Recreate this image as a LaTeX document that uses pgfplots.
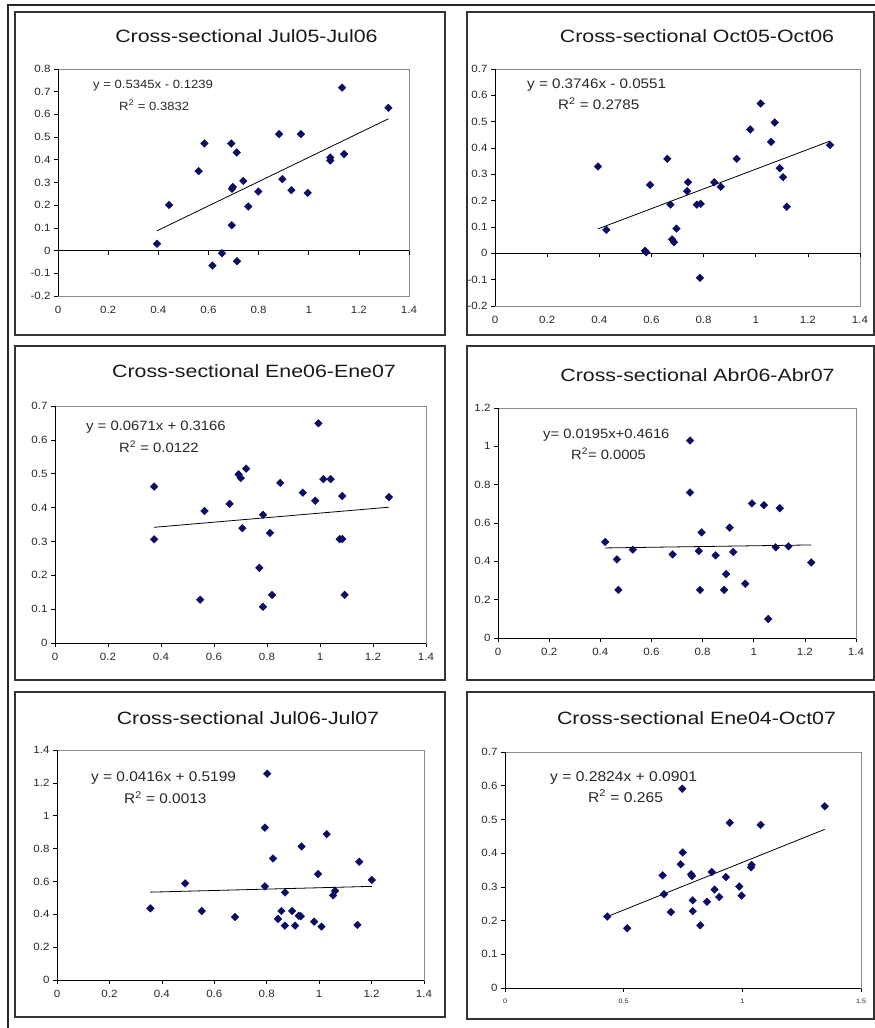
\documentclass[border=0pt]{standalone}
\usepackage{pgfplots}
\pgfplotsset{compat=1.18}
\usepackage{fontspec}
\setmainfont{Liberation Sans}[FakeStretch=1.1]
\newfontfamily\titlefont{Liberation Sans}[FakeStretch=1.2]
\definecolor{mk}{RGB}{12,12,100}
\definecolor{txt}{RGB}{40,40,40}
\pgfplotsset{
  panel/.style={
    scale only axis, clip=false,
    xmin=0, xmax=1.4,
    xtick={0,0.2,0.4,0.6,0.8,1,1.2,1.4},
    axis line style={draw=black!45, line width=0.8pt},
    tick align=outside, major tick length=4pt,
    tick style={black, line width=0.7pt},
    xtick pos=lower, ytick pos=left,
    ticklabel style={font=\fontsize{10.5}{12}\selectfont, text=txt},
    /pgf/number format/assume math mode=true,
    xticklabel style={yshift=-3pt},
  },
  pts/.style={only marks, mark=square*, mark size=2.7pt, mark options={rotate=45, draw=mk, fill=mk}},
  trend/.style={black, line width=0.8pt, no marks},
}
\newcommand{\eqfont}[1]{\fontsize{#1}{#1}\selectfont\color{txt}}
\begin{document}
\begin{tikzpicture}[x=1pt,y=1pt]
\path[use as bounding box] (0,0) rectangle (875,1028);
% frames
\draw[black!85, line width=1.4pt] (8,0) -- (8,1023) -- (876,1023);
\draw[black!80, line width=1.6pt] (15,693) rectangle (445,1016);
\draw[black!80, line width=1.6pt] (467,693) rectangle (874,1016);
\draw[black!80, line width=1.6pt] (15,348) rectangle (445,682);
\draw[black!80, line width=1.6pt] (467,348) rectangle (874,682);
\draw[black!80, line width=1.6pt] (15,11) rectangle (445,336);
\draw[black!80, line width=1.6pt] (467,9) rectangle (874,336);

% ---------- Panel 1 ----------
\begin{axis}[panel, at={(58pt,732pt)}, anchor=south west, width=351pt, height=227pt,
  ymin=-0.2, ymax=0.8, ytick={-0.2,-0.1,0,0.1,0.2,0.3,0.4,0.5,0.6,0.7,0.8},
  xtick style={draw=none}]
\addplot[pts] coordinates {
(0.395,0.03) (0.443,0.201) (0.561,0.35) (0.584,0.472) (0.616,-0.066)
(0.654,-0.012) (0.691,0.472) (0.694,0.272) (0.697,0.28) (0.693,0.112)
(0.713,0.432) (0.714,-0.047) (0.739,0.307) (0.759,0.194) (0.799,0.260)
(0.882,0.513) (0.895,0.315) (0.931,0.266) (0.969,0.513) (0.996,0.254)
(1.086,0.41) (1.086,0.397) (1.133,0.718) (1.141,0.425) (1.318,0.629)};
\addplot[trend] coordinates {(0.395,0.0872) (1.318,0.5806)};
\addplot[black, line width=0.9pt, no marks] coordinates {(0,0) (1.4,0)};
\draw[black, line width=0.9pt] (rel axis cs:0,0) -- (rel axis cs:0,1);
\pgfplotsinvokeforeach{0.2,0.4,0.6,0.8,1,1.2,1.4}{\draw[black, line width=0.7pt] (axis cs:#1,0) -- (axis cs:#1,-0.0176);}
\end{axis}
\node[font=\titlefont\fontsize{17.8}{20}\selectfont, text=black!90] at (246.5,992) {Cross-sectional Jul05-Jul06};
\node[anchor=west, inner sep=0, font=\eqfont{11.9}] at (93,942) {y = 0.5345x - 0.1239};
\node[anchor=west, inner sep=0, font=\eqfont{11.9}] at (119,923) {R\textsuperscript{2} = 0.3832};

% ---------- Panel 2 ----------
\begin{axis}[panel, at={(495pt,722pt)}, anchor=south west, width=365pt, height=237pt,
  ymin=-0.2, ymax=0.7, ytick={-0.2,-0.1,0,0.1,0.2,0.3,0.4,0.5,0.6,0.7},
  xtick style={draw=none}]
\addplot[pts] coordinates {
(0.395,0.33) (0.427,0.089) (0.575,0.01) (0.58,0.004) (0.595,0.26)
(0.661,0.359) (0.673,0.185) (0.679,0.053) (0.687,0.042) (0.696,0.094)
(0.737,0.236) (0.74,0.27) (0.774,0.185) (0.789,0.188) (0.786,-0.093)
(0.841,0.27) (0.866,0.253) (0.927,0.359) (0.979,0.47) (1.019,0.569)
(1.059,0.423) (1.073,0.497) (1.092,0.323) (1.105,0.289) (1.119,0.177)
(1.285,0.411)};
\addplot[trend] coordinates {(0.395,0.0929) (1.285,0.4263)};
\addplot[black, line width=0.9pt, no marks] coordinates {(0,0) (1.4,0)};
\draw[black, line width=0.9pt] (rel axis cs:0,0) -- (rel axis cs:0,1);
\pgfplotsinvokeforeach{0.2,0.4,0.6,0.8,1,1.2,1.4}{\draw[black, line width=0.7pt] (axis cs:#1,0) -- (axis cs:#1,-0.0152);}
\end{axis}
\node[font=\titlefont\fontsize{17.8}{20}\selectfont, text=black!90] at (697,992) {Cross-sectional Oct05-Oct06};
\node[anchor=west, inner sep=0, font=\eqfont{13.8}] at (527,943) {y = 0.3746x - 0.0551};
\node[anchor=west, inner sep=0, font=\eqfont{13.8}] at (558,924) {R\textsuperscript{2} = 0.2785};

% ---------- Panel 3 ----------
\begin{axis}[panel, at={(55pt,385pt)}, anchor=south west, width=371pt, height=237pt,
  ymin=0, ymax=0.7, ytick={0,0.1,0.2,0.3,0.4,0.5,0.6,0.7}]
\addplot[pts] coordinates {
(0.374,0.462) (0.374,0.306) (0.548,0.128) (0.564,0.39) (0.659,0.411)
(0.693,0.498) (0.701,0.487) (0.721,0.515) (0.707,0.339) (0.771,0.222)
(0.785,0.379) (0.785,0.107) (0.811,0.325) (0.819,0.142) (0.850,0.473)
(0.935,0.444) (0.982,0.420) (0.994,0.649) (1.013,0.484) (1.040,0.484)
(1.074,0.307) (1.084,0.307) (1.084,0.434) (1.093,0.142) (1.260,0.431)};
\addplot[trend] coordinates {(0.374,0.3417) (1.26,0.4011)};
\draw[black, line width=0.9pt] (rel axis cs:0,1) -- (rel axis cs:0,0) -- (rel axis cs:1,0);
\end{axis}
\node[font=\titlefont\fontsize{17.8}{20}\selectfont, text=black!90] at (254,657) {Cross-sectional Ene06-Ene07};
\node[anchor=west, inner sep=0, font=\eqfont{13.5}] at (86,601) {y = 0.0671x + 0.3166};
\node[anchor=west, inner sep=0, font=\eqfont{13.5}] at (119,581) {R\textsuperscript{2} = 0.0122};

% ---------- Panel 4 ----------
\begin{axis}[panel, at={(498pt,390pt)}, anchor=south west, width=358pt, height=230pt,
  ymin=0, ymax=1.2, ytick={0,0.2,0.4,0.6,0.8,1,1.2}]
\addplot[pts] coordinates {
(0.419,0.501) (0.465,0.41) (0.471,0.251) (0.527,0.461) (0.683,0.436)
(0.751,1.03) (0.751,0.759) (0.785,0.454) (0.79,0.251) (0.796,0.551)
(0.851,0.431) (0.884,0.251) (0.892,0.333) (0.906,0.576) (0.92,0.449)
(0.967,0.283) (0.993,0.702) (1.04,0.693) (1.057,0.099) (1.086,0.473)
(1.102,0.677) (1.136,0.478) (1.225,0.394)};
\addplot[trend] coordinates {(0.419,0.4698) (1.225,0.4855)};
\draw[black, line width=0.9pt] (rel axis cs:0,1) -- (rel axis cs:0,0) -- (rel axis cs:1,0);
\end{axis}
\node[font=\titlefont\fontsize{17.8}{20}\selectfont, text=black!90] at (697.5,653) {Cross-sectional Abr06-Abr07};
\node[anchor=west, inner sep=0, font=\eqfont{13.4}] at (543,593) {y= 0.0195x+0.4616};
\node[anchor=west, inner sep=0, font=\eqfont{13.4}] at (571,574) {R\textsuperscript{2}= 0.0005};

% ---------- Panel 5 ----------
\begin{axis}[panel, at={(57pt,48pt)}, anchor=south west, width=367pt, height=230pt,
  ymin=0, ymax=1.4, ytick={0,0.2,0.4,0.6,0.8,1,1.2,1.4}]
\addplot[pts] coordinates {
(0.356,0.436) (0.489,0.588) (0.552,0.42) (0.679,0.383) (0.793,0.927)
(0.793,0.570) (0.802,1.256) (0.824,0.740) (0.843,0.371) (0.856,0.42)
(0.869,0.331) (0.870,0.533) (0.897,0.42) (0.908,0.331) (0.922,0.391)
(0.930,0.388) (0.933,0.813) (0.981,0.355) (0.996,0.645) (1.009,0.325)
(1.029,0.888) (1.053,0.515) (1.061,0.542) (1.146,0.335) (1.153,0.72)
(1.201,0.609)};
\addplot[trend] coordinates {(0.356,0.5347) (1.201,0.5699)};
\draw[black, line width=0.9pt] (rel axis cs:0,1) -- (rel axis cs:0,0) -- (rel axis cs:1,0);
\end{axis}
\node[font=\titlefont\fontsize{17.8}{20}\selectfont, text=black!90] at (248,310) {Cross-sectional Jul06-Jul07};
\node[anchor=west, inner sep=0, font=\eqfont{14}] at (91,250) {y = 0.0416x + 0.5199};
\node[anchor=west, inner sep=0, font=\eqfont{14}] at (124,230) {R\textsuperscript{2} = 0.0013};

% ---------- Panel 6 ----------
\begin{axis}[panel, at={(505pt,40pt)}, anchor=south west, width=356pt, height=236pt,
  xmin=0, xmax=1.5, xtick={0,0.5,1,1.5},
  xticklabel style={font=\fontsize{6.5}{7}\selectfont},
  ymin=0, ymax=0.7, ytick={0,0.1,0.2,0.3,0.4,0.5,0.6,0.7}]
\addplot[pts] coordinates {
(0.431,0.212) (0.515,0.177) (0.664,0.334) (0.670,0.278) (0.699,0.225)
(0.740,0.367) (0.747,0.591) (0.749,0.402) (0.784,0.337) (0.788,0.332)
(0.791,0.26) (0.791,0.228) (0.823,0.186) (0.851,0.256) (0.871,0.344)
(0.883,0.292) (0.903,0.27) (0.931,0.329) (0.947,0.49) (0.987,0.301)
(0.997,0.274) (1.037,0.358) (1.039,0.365) (1.077,0.484) (1.347,0.539)};
\addplot[trend] coordinates {(0.431,0.2118) (1.347,0.4705)};
\draw[black, line width=0.9pt] (rel axis cs:0,1) -- (rel axis cs:0,0) -- (rel axis cs:1,0);
\end{axis}
\node[font=\titlefont\fontsize{17.8}{20}\selectfont, text=black!90] at (696.5,310) {Cross-sectional Ene04-Oct07};
\node[anchor=west, inner sep=0, font=\eqfont{14.2}] at (550,250) {y = 0.2824x + 0.0901};
\node[anchor=west, inner sep=0, font=\eqfont{14.2}] at (588,232) {R\textsuperscript{2} = 0.265};
\end{tikzpicture}
\end{document}
